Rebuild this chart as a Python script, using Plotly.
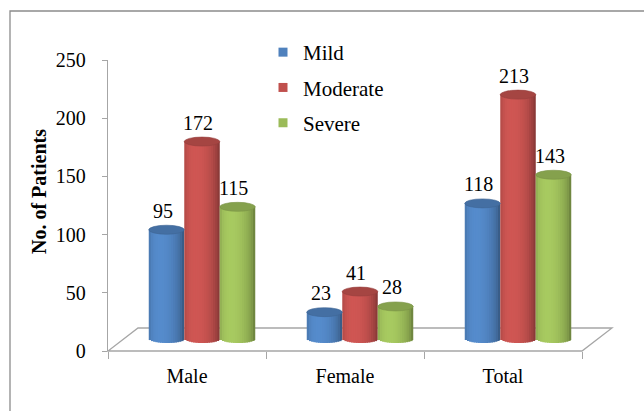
import numpy as np
import plotly.graph_objects as go

# ---- data -------------------------------------------------------------
categories = ["Male", "Female", "Total"]
series_names = ["Mild", "Moderate", "Severe"]
mild = [95, 23, 118]
moderate = [172, 41, 213]
severe = [115, 28, 143]
series_values = [mild, moderate, severe]
series_rgb = [(79, 129, 189), (192, 80, 77), (155, 187, 89)]
y_ticks = [0, 50, 100, 150, 200, 250]

# ---- geometry (pixels) ------------------------------------------------
W, H = 644, 411
L, R, T, B = 108, 615, 60, 351          # plot area
PX_CAT = 158.0                           # px per category on the front axis
PX_Y_BAR = 1.145                         # px per unit for the cylinders
BAR_BASE_PX = 338.5                      # screen row of the cylinders' zero
SHIFT_PX = 15.0                          # depth shift of the cylinders
BAR_W = 35.5 / PX_CAT                    # cylinder width in x units
CAP_H = 9.0 / PX_Y_BAR                   # ellipse height in y units
N_SLICES = 16
FONT = "Liberation Serif"
GRAY = "#A6A6A6"

x_range = [-0.5, -0.5 + (R - L) / PX_CAT]
x2_range = [x_range[0] - SHIFT_PX / PX_CAT, x_range[1] - SHIFT_PX / PX_CAT]
y2_range = [-(B - BAR_BASE_PX) / PX_Y_BAR, (BAR_BASE_PX - T) / PX_Y_BAR]


def fx(px):
    return (px - L) / (R - L)


def fy(py):
    return (B - py) / (B - T)


def shade(rgb, f):
    return "rgb({},{},{})".format(*[int(max(0, min(255, round(c * f)))) for c in rgb])


fig = go.Figure()

# cylinders: each body is built from overlapping vertical slices shaded like
# a lit cylinder, with an elliptical bottom edge
positions = list(range(len(categories)))
slice_w = BAR_W / N_SLICES
for j, (name, vals, rgb) in enumerate(zip(series_names, series_values, series_rgb)):
    for k in range(N_SLICES):
        t = -1 + (2 * k + 1) / N_SLICES
        theta = np.arcsin(t)
        f = 0.72 + 0.36 * max(0.0, np.cos(theta + 0.35))
        b = -CAP_H / 2 * np.sqrt(1 - t * t)
        col = shade(rgb, f)
        fig.add_trace(go.Bar(
            x=positions,
            y=[v - b for v in vals],
            base=[b] * len(vals),
            width=slice_w * (1.7 if k < N_SLICES - 1 else 1.0),
            offset=(j - 1.5) * BAR_W + k * slice_w,
            marker=dict(color=col, line=dict(width=0)),
            xaxis="x2", yaxis="y2",
            showlegend=False, hoverinfo="skip",
        ))

# top faces and value labels
shapes = []
annotations = []
for j, (name, vals, rgb) in enumerate(zip(series_names, series_values, series_rgb)):
    for i, v in enumerate(vals):
        xc = i + (j - 1) * BAR_W
        shapes.append(dict(
            type="circle", xref="x2", yref="y2", layer="above",
            x0=xc - BAR_W / 2, x1=xc + BAR_W / 2,
            y0=v - CAP_H / 2, y1=v + CAP_H / 2,
            fillcolor=shade(rgb, 0.86),
            line=dict(color=shade(rgb, 0.78), width=0.6),
        ))
        annotations.append(dict(
            xref="x2", yref="y2", x=xc, y=v, text=str(v),
            xanchor="center", yanchor="middle",
            showarrow=False, yshift=19, xshift=-4,
            font=dict(family=FONT, size=20, color="black"),
        ))

# legend entries
for name, rgb in zip(series_names, series_rgb):
    fig.add_trace(go.Scatter(
        x=categories, y=[None] * len(categories), mode="markers",
        marker=dict(symbol="square", size=9, color=shade(rgb, 1.0)),
        name=name, legendgroup=name,
    ))

# 3-D floor
floor = [(L, B), (582, B), (612, 328), (138, 328)]
path = "M " + " L ".join(f"{fx(a)},{fy(b)}" for a, b in floor) + " Z"
shapes.insert(0, dict(type="path", xref="paper", yref="paper", path=path,
                      line=dict(color=GRAY, width=1.3), layer="below"))

# outer frame
shapes.append(dict(type="rect", xref="paper", yref="paper",
                   x0=fx(10), x1=fx(700), y0=fy(500), y1=fy(11),
                   line=dict(color="#8C8C8C", width=1.3), layer="below"))

annotations.append(dict(
    xref="paper", yref="paper", x=fx(39), y=fy(192), text="<b>No. of Patients</b>",
    xanchor="center", yanchor="middle",
    textangle=-90, showarrow=False,
    font=dict(family=FONT, size=20, color="black"),
))

fig.update_layout(
    width=W, height=H,
    margin=dict(l=L, r=W - R, t=T, b=H - B),
    paper_bgcolor="white", plot_bgcolor="rgba(0,0,0,0)",
    barmode="overlay",
    font=dict(family=FONT, size=20, color="black"),
    xaxis=dict(
        type="category", categoryorder="array", categoryarray=categories,
        range=x_range, showline=False, showgrid=False, zeroline=False,
        ticks="outside", tickson="boundaries", ticklen=7, tickcolor=GRAY,
        tickwidth=1.3, ticklabelstandoff=11,
        tickfont=dict(family=FONT, size=20, color="black"),
    ),
    xaxis2=dict(overlaying="x", range=x2_range, visible=False),
    yaxis=dict(
        range=[0, 250], tickvals=y_ticks, showline=True, linecolor=GRAY,
        linewidth=1.3, ticks="outside", ticklen=5, tickcolor=GRAY, tickwidth=1.3,
        showgrid=False, zeroline=False, ticklabelstandoff=12,
        tickfont=dict(family=FONT, size=20, color="black"),
    ),
    yaxis2=dict(overlaying="y", range=y2_range, visible=False),
    legend=dict(
        x=fx(263), y=fy(32), xanchor="left", yanchor="top",
        bgcolor="rgba(0,0,0,0)", tracegroupgap=5,
        font=dict(family=FONT, size=21, color="black"),
    ),
    shapes=shapes,
    annotations=annotations,
    showlegend=True,
)

fig.write_html("out.html")
